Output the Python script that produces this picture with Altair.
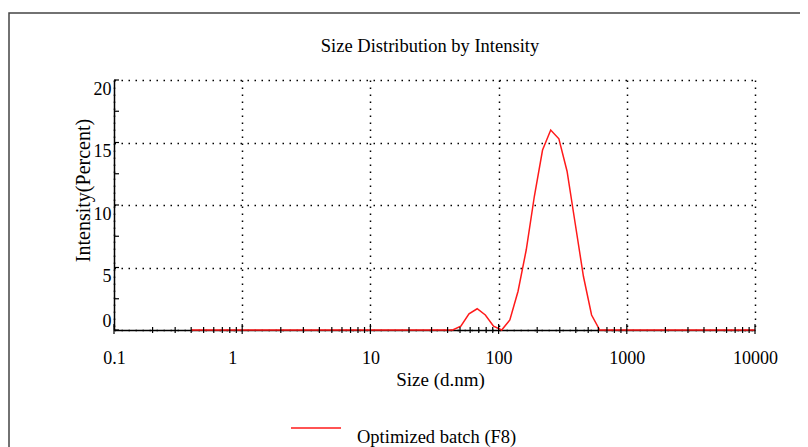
import altair as alt
import pandas as pd

# Size bins (d.nm), log spaced
sizes = [0.4, 0.4632, 0.5365, 0.6213, 0.7195, 0.8332, 0.9649,
         1.117, 1.294, 1.499, 1.736, 2.010, 2.328, 2.696, 3.122, 3.615, 4.187, 4.849, 5.615, 6.503, 7.531, 8.721,
         10.10, 11.70, 13.54, 15.69, 18.17, 21.04, 24.36, 28.21, 32.67, 37.84, 43.82, 50.75, 58.77, 68.06, 78.82, 91.28,
         105.7, 122.4, 141.8, 164.2, 190.1, 220.2, 255.0, 295.3, 342.0, 396.1, 458.7, 531.2, 615.1, 712.4, 825.0, 955.4,
         1106, 1281, 1484, 1718, 1990, 2305, 2669, 3091, 3580, 4145, 4801, 5560, 6439, 7456, 8635, 10000]

intensity = [0, 0, 0, 0, 0, 0, 0,
             0, 0, 0, 0, 0, 0, 0, 0, 0, 0, 0, 0, 0, 0, 0,
             0, 0, 0, 0, 0, 0, 0, 0, 0, 0, 0, 0.3, 1.3, 1.7, 1.2, 0.3,
             0, 0.8, 3.1, 6.4, 10.7, 14.4, 16.0, 15.3, 12.7, 8.5, 4.3, 1.2, 0, 0, 0, 0,
             0, 0, 0, 0, 0, 0, 0, 0, 0, 0, 0, 0, 0, 0, 0, 0]

series_name = "Optimized batch (F8)"
chart_title = ["Size Distribution by Intensity"]
x_title = "Size (d.nm)"
y_title = "Intensity(Percent)"
x_major = [0.1, 1, 10, 100, 1000, 10000]
x_minor = [k * d for d in [0.1, 1, 10, 100, 1000] for k in range(2, 10)]
y_ticks = [0, 2.5, 5, 7.5, 10, 12.5, 15, 17.5, 20]
y_labels = [0, 5, 10, 15, 20]

FONT = "Liberation Serif"

df = pd.DataFrame({"size": sizes, "intensity": intensity, "series": series_name})
xs = alt.Scale(type="log", domain=[0.1, 10000], nice=False)
ys = alt.Scale(domain=[0, 20], nice=False)

line = alt.Chart(df).mark_line(strokeWidth=1.5).encode(
    x=alt.X("size:Q", scale=xs, title=x_title,
            axis=alt.Axis(values=x_major, format="~g", ticks=False, domainColor="black", domainWidth=1.5,
                          grid=True, gridColor="black", gridDash=[1.5, 5.5], gridWidth=1.5,
                          labelFont=FONT, labelFontSize=18, labelColor="black", labelPadding=19,
                          labelOffset={"condition": {"test": "datum.value == 1", "value": -10}, "value": 0},
                          labelFlush=False,
                          titleFont=FONT, titleFontSize=19, titleFontWeight="normal", titleColor="black",
                          titlePadding=3, titleX=326)),
    y=alt.Y("intensity:Q", scale=ys, title=y_title,
            axis=alt.Axis(values=y_labels, ticks=False, domainColor="black", domainWidth=1.5,
                          grid=True, gridColor="black", gridDash=[1.5, 5.5], gridWidth=1.5,
                          labelFont=FONT, labelFontSize=18, labelColor="black", labelPadding=3,
                          labelBaseline={"condition": {"test": "datum.value == 0", "value": "bottom"},
                                         "value": "top"},
                          labelFlush=False,
                          titleFont=FONT, titleFontSize=20, titleFontWeight="normal", titleColor="black",
                          titleX=-31, titleY=110, titleBaseline="middle", titleAlign="center", titleAngle=270)),
    color=alt.Color("series:N", scale=alt.Scale(range=["#ff1a1a"]),
                    legend=alt.Legend(orient="none", legendX=176, legendY=322, title=None,
                                      symbolType="stroke", symbolSize=2500, symbolStrokeWidth=1.5,
                                      labelFont=FONT, labelFontSize=18.5, labelColor="black",
                                      labelOffset=15, labelBaseline="top", labelLimit=400)),
)

frame = alt.Chart(pd.DataFrame({"a": [0]})).mark_rect(
    fillOpacity=0, stroke="#444444", strokeWidth=1.5
).encode(x=alt.value(-105), y=alt.value(-67), x2=alt.value(900), y2=alt.value(700))

title_layer = alt.Chart(pd.DataFrame({"t": chart_title})).mark_text(
    font=FONT, fontSize=18.5, color="black", baseline="middle", align="center"
).encode(text="t:N", x=alt.value(316), y=alt.value(-34))

ytick_layer = alt.Chart(pd.DataFrame({"v": y_ticks})).mark_rule(color="black", strokeWidth=1.2).encode(
    y=alt.Y("v:Q", scale=ys, title=y_title), x=alt.value(0), x2=alt.value(5))

xminor_layer = alt.Chart(pd.DataFrame({"v": x_minor})).mark_rule(color="black", strokeWidth=1.2).encode(
    x=alt.X("v:Q", scale=xs, title=x_title), y=alt.value(247), y2=alt.value(253))

xmajor_layer = alt.Chart(pd.DataFrame({"v": x_major})).mark_rule(color="black", strokeWidth=1.2).encode(
    x=alt.X("v:Q", scale=xs, title=x_title), y=alt.value(244), y2=alt.value(254))

chart = alt.layer(line, ytick_layer, xminor_layer, xmajor_layer, frame, title_layer).properties(
    width=641, height=250,
    autosize=alt.AutoSizeParams(type="none"),
    padding={"left": 106, "top": 72, "right": 45, "bottom": 117},
    background="white",
).configure_view(stroke=None)

chart.save("out.html", embed_options={"renderer": "svg", "actions": False})
